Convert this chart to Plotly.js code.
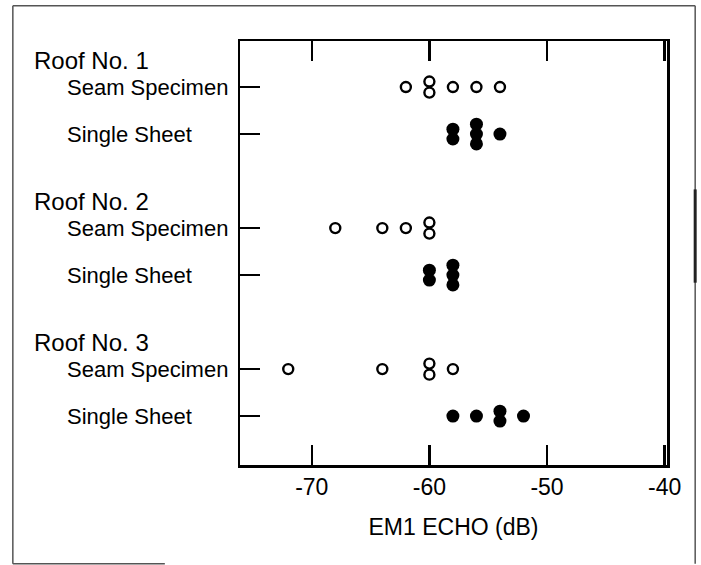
<!DOCTYPE html>
<html>
<head>
<meta charset="utf-8">
<script src="https://cdn.plot.ly/plotly-3.0.1.min.js"></script>
<style>
html,body{margin:0;padding:0;background:#fff;}
#chart{width:701px;height:565px;}
</style>
</head>
<body>
<div id="chart"></div>
<script>
// ---- data ----
var roofs = ["Roof No. 1", "Roof No. 2", "Roof No. 3"];
var specimenTypes = ["Seam Specimen", "Single Sheet"];
var seamRoof1 = [-62, -60, -60, -58, -56, -54];
var sheetRoof1 = [-58, -58, -56, -56, -56, -54];
var seamRoof2 = [-68, -64, -62, -60, -60];
var sheetRoof2 = [-60, -60, -58, -58, -58];
var seamRoof3 = [-72, -64, -60, -60, -58];
var sheetRoof3 = [-58, -56, -54, -54, -52];
var xTickVals = [-70, -60, -50, -40];
var xTickText = ["-70", "-60", "-50", "-40"];
var xTitle = "EM1 ECHO (dB)";

var seamSeries = [seamRoof1, seamRoof2, seamRoof3];
var sheetSeries = [sheetRoof1, sheetRoof2, sheetRoof3];

// row position of each specimen row (3 units per roof group)
function rowPos(roofIdx, typeIdx) { return roofIdx * 3 + typeIdx; }

// stack duplicate values vertically around the row centre
function stacked(values, row, step) {
  var counts = {}, seen = {};
  values.forEach(function (v) { counts[v] = (counts[v] || 0) + 1; });
  var ys = values.map(function (v) {
    var k = seen[v] || 0; seen[v] = k + 1;
    return row + (k - (counts[v] - 1) / 2) * step;
  });
  return ys;
}

var openX = [], openY = [], fillX = [], fillY = [];
for (var r = 0; r < roofs.length; r++) {
  var s = seamSeries[r], f = sheetSeries[r];
  var sy = stacked(s, rowPos(r, 0), 0.235);
  var fy = stacked(f, rowPos(r, 1), 0.21);
  openX = openX.concat(s); openY = openY.concat(sy);
  fillX = fillX.concat(f); fillY = fillY.concat(fy);
}

var traces = [
  {x: openX, y: openY, mode: "markers", type: "scatter", name: "Seam Specimen",
   marker: {symbol: "circle-open", size: 10, color: "#000", line: {width: 2.4, color: "#000"}},
   hoverinfo: "x"},
  {x: fillX, y: fillY, mode: "markers", type: "scatter", name: "Single Sheet",
   marker: {symbol: "circle", size: 13, color: "#000"},
   hoverinfo: "x"}
];

var FONT = "Liberation Sans, Arial, Helvetica, sans-serif";
var tickRows = [];
var annotations = [];
for (var r = 0; r < roofs.length; r++) {
  annotations.push({xref: "paper", yref: "y", x: -0.487, y: rowPos(r, 0) - 0.57,
    text: roofs[r], showarrow: false, xanchor: "left", yanchor: "middle",
    font: {family: FONT, size: 24, color: "#000"}});
  for (var t = 0; t < specimenTypes.length; t++) {
    tickRows.push(rowPos(r, t));
    annotations.push({xref: "paper", yref: "y", x: -0.41, y: rowPos(r, t),
      text: specimenTypes[t], showarrow: false, xanchor: "left", yanchor: "middle",
      font: {family: FONT, size: 22, color: "#000"}});
  }
}

var frameColor = "#555";
var shapes = [
  {type: "line", xref: "paper", yref: "paper", x0: -0.532, x1: -0.532, y0: -0.233, y1: 1.083, line: {color: frameColor, width: 1.5}},
  {type: "line", xref: "paper", yref: "paper", x0: -0.532, x1: 1.066, y0: 1.083, y1: 1.083, line: {color: frameColor, width: 1.5}},
  {type: "line", xref: "paper", yref: "paper", x0: 1.066, x1: 1.066, y0: -0.233, y1: 1.083, line: {color: frameColor, width: 1.5}},
  {type: "line", xref: "paper", yref: "paper", x0: 1.066, x1: 1.066, y0: 0.43, y1: 0.65, line: {color: "#222", width: 3}},
  {type: "line", xref: "paper", yref: "paper", x0: -0.532, x1: -0.176, y0: -0.233, y1: -0.233, line: {color: frameColor, width: 1.5}}
];

var layout = {
  width: 701, height: 565,
  margin: {l: 240, r: 34, t: 41, b: 100, pad: 0},
  paper_bgcolor: "#fff", plot_bgcolor: "#fff",
  showlegend: false,
  font: {family: FONT, color: "#000"},
  xaxis: {
    range: [-76.1, -39.8], tickvals: xTickVals, ticktext: xTickText,
    ticks: "inside", ticklen: 20, tickwidth: 2.5, tickcolor: "#000",
    showline: true, linewidth: 2.5, linecolor: "#000", mirror: "ticks",
    showgrid: false, zeroline: false,
    tickfont: {family: FONT, size: 23, color: "#000"},
    title: {text: xTitle, font: {family: FONT, size: 23, color: "#000"}, standoff: 20}
  },
  yaxis: {
    range: [8.04, -0.98], tickvals: tickRows, showticklabels: false,
    ticks: "inside", ticklen: 20, tickwidth: 2.5, tickcolor: "#000",
    showline: true, linewidth: 2.5, linecolor: "#000", mirror: true,
    showgrid: false, zeroline: false
  },
  annotations: annotations,
  shapes: shapes
};

Plotly.newPlot("chart", traces, layout, {displayModeBar: false, staticPlot: true});
</script>
</body>
</html>
